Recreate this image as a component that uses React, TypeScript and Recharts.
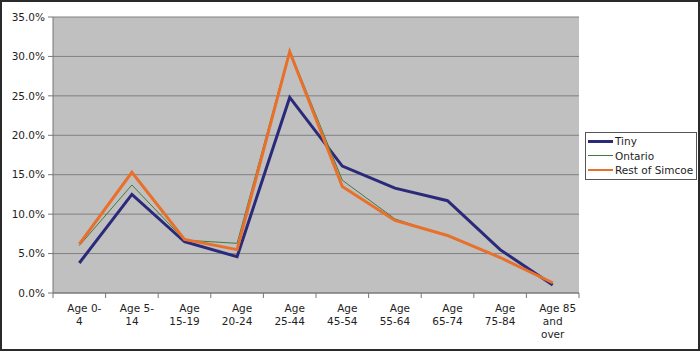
import React from "react";
import { LineChart, Line, XAxis, YAxis, CartesianGrid, Legend } from "recharts";

const categories = ["Age 0-4", "Age 5-14", "Age 15-19", "Age 20-24", "Age 25-44", "Age 45-54", "Age 55-64", "Age 65-74", "Age 75-84", "Age 85 and over"];
const categoryLines = [
  ["Age 0-", "4"],
  ["Age 5-", "14"],
  ["Age", "15-19"],
  ["Age", "20-24"],
  ["Age", "25-44"],
  ["Age", "45-54"],
  ["Age", "55-64"],
  ["Age", "65-74"],
  ["Age", "75-84"],
  ["Age 85", "and", "over"],
];
const tiny = [3.8, 12.5, 6.5, 4.6, 24.8, 16.1, 13.3, 11.7, 5.5, 1.0];
const ontario = [6.0, 13.7, 6.7, 6.3, 30.8, 14.3, 9.4, 7.2, 4.5, 1.2];
const restOfSimcoe = [6.2, 15.3, 6.8, 5.5, 30.6, 13.5, 9.2, 7.3, 4.5, 1.3];
const yTicks = [0, 5, 10, 15, 20, 25, 30, 35];

const seriesNames = ["Tiny", "Ontario", "Rest of Simcoe"];
const seriesKeys = ["tiny", "ontario", "rest"];
const seriesColors = ["#2b2a7a", "#3f7a3f", "#e8702a"];
const seriesWidths = [3, 1, 3];
const legendWidths = [3, 1, 2];

const data = categories.map((c, i) => ({
  cat: c,
  tiny: tiny[i],
  ontario: ontario[i],
  rest: restOfSimcoe[i],
}));

const W = 700;
const H = 351;
const M = { top: 17, right: 121, bottom: 0, left: 0 };
const Y_W = 53;
const X_H = 58;
const FONT = "'DejaVu Sans', Verdana, sans-serif";
const TEXT = "#1e1e1e";
const AXIS = "#777777";

const XTick = (props: any) => {
  const { x, y, payload, index } = props;
  const plotW = W - M.left - M.right - Y_W;
  const bw = plotW / categories.length;
  const idx = typeof index === "number" ? index : categories.indexOf(payload.value);
  const lines = categoryLines[idx] || [String(payload.value)];
  return (
    <g>
      <line x1={x - bw / 2} x2={x - bw / 2} y1={y} y2={y + 5} stroke={AXIS} />
      {idx === categories.length - 1 && (
        <line x1={x + bw / 2} x2={x + bw / 2} y1={y} y2={y + 5} stroke={AXIS} />
      )}
      {lines.map((l, i) => (
        <text
          key={i}
          x={x}
          dx={i === 0 && lines.length > 1 ? 5 : 0}
          y={y + 19 + i * 13}
          textAnchor="middle"
          fontFamily={FONT}
          fontSize={10.5}
          fill={TEXT}
        >
          {l}
        </text>
      ))}
    </g>
  );
};

const LegendBox = () => (
  <div
    style={{
      position: "absolute",
      left: 585,
      top: 132,
      width: 112,
      height: 48,
      boxSizing: "border-box",
      border: "1px solid #555",
      background: "#fff",
      fontFamily: FONT,
      fontSize: 10.5,
      color: TEXT,
      paddingTop: 1,
    }}
  >
    {seriesNames.map((n, i) => (
      <div key={n} style={{ display: "flex", alignItems: "center", height: 14.5, whiteSpace: "nowrap" }}>
        <div style={{ width: 25, height: legendWidths[i], background: seriesColors[i], marginLeft: 2, marginRight: 2 }} />
        <span>{n}</span>
      </div>
    ))}
  </div>
);

export default function App() {
  return (
    <div style={{ position: "absolute", left: 0, top: 0, width: W, height: H, background: "#fff" }}>
      <LineChart width={W} height={H} data={data} margin={M}>
        <CartesianGrid vertical={false} horizontal stroke="#808080" fill="#c0c0c0" fillOpacity={1} />
        <XAxis
          dataKey="cat"
          scale="band"
          height={X_H}
          interval={0}
          tickLine={false}
          tickSize={0}
          tickMargin={0}
          axisLine={{ stroke: AXIS }}
          tick={<XTick />}
        />
        <YAxis
          width={Y_W}
          domain={[0, 35]}
          ticks={yTicks}
          type="number"
          allowDataOverflow
          tickFormatter={(v: number) => `${v.toFixed(1)}%`}
          tickSize={5}
          tickMargin={3}
          axisLine={{ stroke: AXIS }}
          tickLine={{ stroke: AXIS }}
          tick={{ fontFamily: FONT, fontSize: 10.5, fill: TEXT }}
        />
        <YAxis
          yAxisId="r"
          orientation="right"
          width={0}
          domain={[0, 35]}
          tick={false}
          tickLine={false}
          axisLine={{ stroke: AXIS }}
        />
        {seriesKeys.map((k, i) => (
          <Line
            key={k}
            type="linear"
            dataKey={k}
            name={seriesNames[i]}
            stroke={seriesColors[i]}
            strokeWidth={seriesWidths[i]}
            dot={false}
            activeDot={false}
            isAnimationActive={false}
          />
        ))}
        <Legend layout="vertical" align="center" verticalAlign="middle" content={() => null} />
      </LineChart>
      <LegendBox />
      <div
        style={{
          position: "absolute",
          left: 0,
          top: 0,
          width: W,
          height: H,
          boxSizing: "border-box",
          border: "2px solid #2a2a2a",
          pointerEvents: "none",
        }}
      />
    </div>
  );
}
